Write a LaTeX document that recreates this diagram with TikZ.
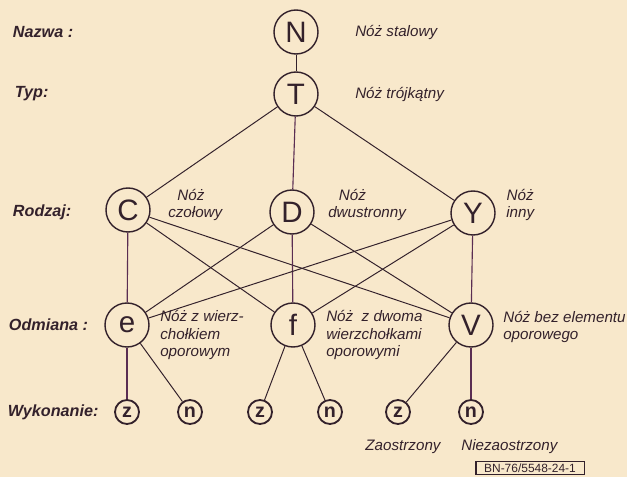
\documentclass[tikz,border=0pt]{standalone}
\usepackage{fontspec}
\setmainfont{Liberation Sans}
\usepackage{tikz}
\usepackage{xcolor}
\usetikzlibrary{positioning}
\definecolor{paper}{HTML}{F8E8CB}
\definecolor{ink}{HTML}{33212B}
\definecolor{plum}{HTML}{5A2D52}
\tikzset{%
	knot/.style    = {draw=ink, circle, line width=1pt, minimum size=11mm, inner sep=0pt, text=ink, font=\fontsize{21}{21}\selectfont}, % feature
	leaf/.style    = {draw=ink, circle, line width=1.3pt, minimum size=6mm, inner sep=0pt, text=ink, font=\bfseries\fontsize{14}{14}\selectfont}, % execution
	level/.style   = {anchor=west, text=ink, font=\bfseries\itshape\fontsize{11.5}{13}\selectfont}, % row title
	note/.style    = {anchor=west, text=ink, align=left, inner sep=0pt, font=\itshape\fontsize{10.8}{12.5}\selectfont}, % meaning
	stamp/.style   = {draw=ink, line width=0.7pt, text=ink, minimum width=27mm, inner ysep=1.5pt, font=\fontsize{8.5}{8.5}\selectfont}, % drawing number
	edge/.style    = {draw=ink, line width=0.7pt},
	stem/.style    = {draw=plum, line width=0.8pt},
}

\begin{document}
\begin{tikzpicture}[x=0.25mm, y=-0.25mm]
	\fill[paper] (0,0) rectangle (627,477);
	\useasboundingbox (0,0) rectangle (627,477);
	% levels
	\node[level] (nazwa) at (8,32) {Nazwa :};
	\node[level] (typ) at (10,94) {Typ:};
	\node[level] (rodzaj) at (8,212) {Rodzaj:};
	\node[level] (odmiana) at (4,325) {Odmiana :};
	\node[level] (wykonanie) at (3,412) {Wykonanie:};
	% features
	\node[knot] (N) at (296,32) {N};
	\node[knot] (T) at (296,94) {T};
	\node[knot] (C) at (128,210) {C};
	\node[knot] (D) at (292,212) {D};
	\node[knot] (Y) at (473,213) {Y};
	\node[knot] (e) at (127,325) {e};
	\node[knot] (f) at (293,325) {f};
	\node[knot] (v) at (471,325) {V};
	\node[leaf] (ze) at (127,412) {z};
	\node[leaf] (ne) at (190,412) {n};
	\node[leaf] (zf) at (260,412) {z};
	\node[leaf] (nf) at (330,412) {n};
	\node[leaf] (zv) at (398,412) {z};
	\node[leaf] (nv) at (471,412) {n};
	% meanings
	\node[note] (nnote) at (355,32) {Nóż stalowy};
	\node[note] (tnote) at (355,94) {Nóż trójkątny};
	\node[note] (cnote) at (168,205) {\hspace*{0.6em}Nóż\\czołowy};
	\node[note] (dnote) at (328,205) {\hspace*{0.7em}Nóż\\dwustronny};
	\node[note, align=center] (ynote) at (506,205) {Nóż\\inny};
	\node[note] (enote) at (160,335) {Nóż z wierz-\\chołkiem\\oporowym};
	\node[note] (fnote) at (326,335) {Nóż~ z dwoma\\wierzchołkami\\oporowymi};
	\node[note] (vnote) at (503,327) {Nóż bez elementu\\oporowego};
	\node[note, anchor=center] (zaostrz) at (403,447) {Zaostrzony};
	\node[note] (niezaostrz) at (461,447) {Niezaostrzony};
	\node[stamp] (bn) at (530,468) {BN-76/5548-24-1};
	\draw[ink, line width=1.4pt] (bn.north west) -- (bn.south west);
	% connectors
	\draw[edge] (N) -- (T);
	\draw[edge] (T) -- (C);
	\draw[stem] (T) -- (D);
	\draw[edge] (T) -- (Y);
	\foreach \a/\b/\s in {C/e/stem, C/f/edge, C/v/edge, D/e/edge, D/f/stem, D/v/edge, Y/e/edge, Y/f/edge, Y/v/stem}
		\draw[\s] (\a) -- (\b);
	\draw[stem] (e) -- (ze);
	\draw[edge] (e) -- (ne);
	\draw[edge] (f) -- (zf);
	\draw[edge] (f) -- (nf);
	\draw[edge] (v) -- (zv);
	\draw[stem] (v) -- (nv);
\end{tikzpicture}
\end{document}
